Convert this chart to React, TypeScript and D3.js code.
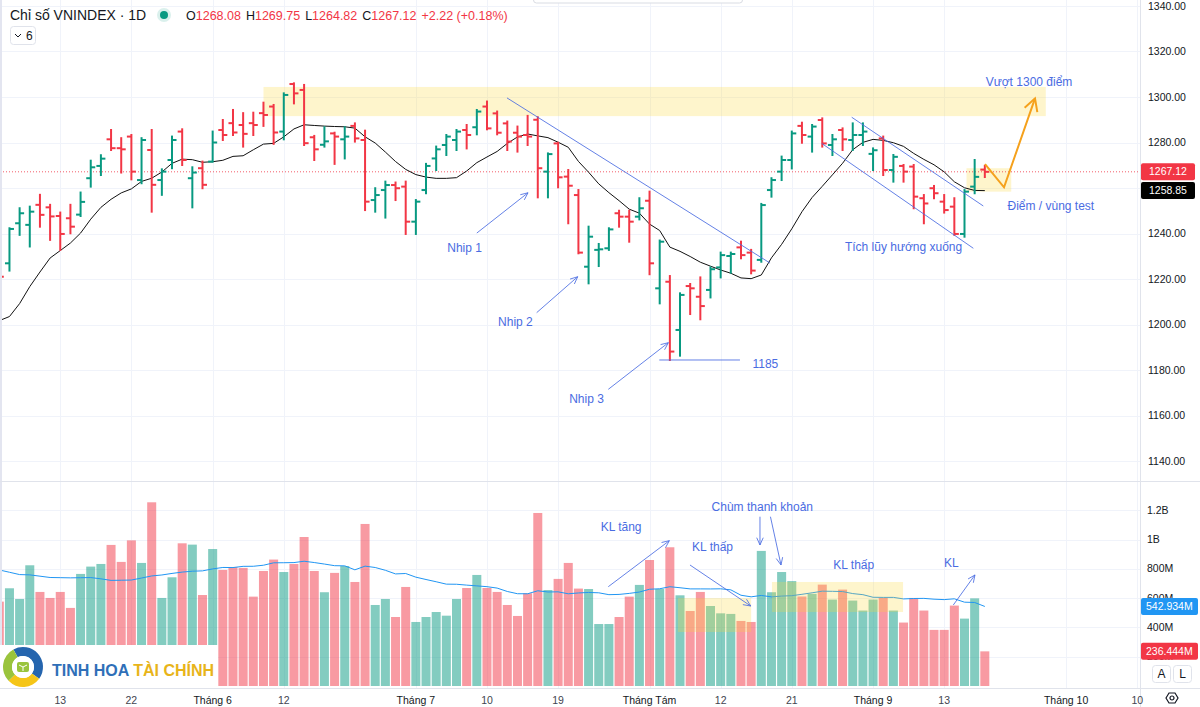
import React, { useEffect } from "react";
import * as d3 from "d3";

// ---------------- data (VNINDEX daily, 03 May -> 19 Sep 2024) ----------------
const opens = [1224, 1226.9, 1244.5, 1243.8, 1252.6, 1251.5, 1247.7, 1246.7, 1248.3, 1264.3,
  1269.7, 1281.4, 1277.5, 1282.6, 1263.5, 1276.7, 1263.5, 1272.3, 1284.8, 1264.3,
  1268.7, 1271.6, 1285.5, 1288.5, 1287.7, 1288.5, 1292.9, 1295.8, 1284.8, 1305.7,
  1303.1, 1282.3, 1279, 1284, 1281.4, 1287.3, 1281.1, 1254.7, 1259.1, 1261.3,
  1260.6, 1245.2, 1259.1, 1273, 1278.9, 1281.1, 1285.5, 1286.7, 1295.8, 1292.8,
  1288.4, 1284.3, 1283.3, 1290, 1267.2, 1279.6, 1265, 1256.9, 1225.4, 1232.8,
  1233.5, 1248.9, 1247.4, 1247.4, 1254.4, 1215.9, 1218.8, 1197.6, 1216.9, 1212.2,
  1215.2, 1225.1, 1230.1, 1233.9, 1231.6, 1228.4, 1259.1, 1267.2, 1272.3, 1287.3,
  1282.6, 1289.9, 1278.9, 1285.5, 1281.1, 1283.3, 1275, 1281.8, 1267.9, 1269.7,
  1269.4, 1255.5, 1259.9, 1254, 1251.8, 1239.8, 1260.6, 1268.08];
const highs = [1226, 1242.3, 1251.1, 1251.8, 1257, 1252.6, 1249.2, 1252.6, 1258, 1272,
  1274.4, 1285.5, 1281.9, 1283.3, 1281.9, 1285.5, 1268.2, 1282.6, 1285.8, 1269.1,
  1271.6, 1284.8, 1289.9, 1294.3, 1292.9, 1293.1, 1297.5, 1296.5, 1301.6, 1306,
  1305.3, 1282.9, 1286.7, 1284.3, 1286.7, 1288.4, 1285.2, 1259.9, 1262.8, 1262.4,
  1262.8, 1254.7, 1270.6, 1278.2, 1283.3, 1285.5, 1287.7, 1294.3, 1298, 1293.6,
  1289.2, 1287, 1291.7, 1291.1, 1275.2, 1279.9, 1267.9, 1259.1, 1243, 1235.4,
  1242.3, 1250, 1250, 1255.5, 1258.4, 1236.9, 1221.3, 1213.7, 1217.8, 1220.7,
  1225.1, 1231.6, 1231.6, 1236.4, 1232.8, 1253, 1264.3, 1273.8, 1284.8, 1288.7,
  1287.7, 1290.6, 1283.3, 1286.2, 1288.4, 1288.4, 1277.4, 1282.6, 1274.5, 1270.1,
  1270.1, 1256.9, 1260.9, 1256.9, 1255.5, 1259.1, 1272.3, 1269.75];
const lows = [1218, 1223.7, 1239.4, 1234.3, 1243, 1237.2, 1232.8, 1240.1, 1247.7, 1260.6,
  1265.7, 1276.7, 1266.8, 1263.8, 1262.1, 1249.6, 1257, 1268.7, 1270.1, 1251.5,
  1259.9, 1271.6, 1281.1, 1283.3, 1278.2, 1283.3, 1287.3, 1279.4, 1281.4, 1297.2,
  1278.9, 1272.3, 1278.2, 1270.6, 1273, 1280.4, 1250.3, 1249.6, 1247, 1254.7,
  1239.8, 1239.8, 1257.7, 1267.9, 1274.5, 1276.7, 1277.4, 1283.6, 1285.8, 1283.6,
  1276.7, 1276, 1278.9, 1255.9, 1255.9, 1260.3, 1244.5, 1231.3, 1218.1, 1225.7,
  1232.8, 1243, 1236.4, 1246.2, 1222.1, 1209.3, 1184.4, 1186.3, 1204.6, 1202.3,
  1211.9, 1220.7, 1222.8, 1229.1, 1222.5, 1227.6, 1256.2, 1263.5, 1268.6, 1279.9,
  1276, 1278.2, 1274.5, 1276.7, 1276.7, 1278.9, 1267.9, 1265.7, 1262.8, 1262.8,
  1251.1, 1244.5, 1255.5, 1249.2, 1239.4, 1238.6, 1257.7, 1264.82];
const closes = [1221, 1242, 1248.9, 1249.6, 1248.2, 1247.5, 1239.8, 1243, 1253.9, 1269.1,
  1272.9, 1277.5, 1277, 1267.2, 1281.1, 1261.4, 1267.2, 1281.1, 1272.3, 1266.8,
  1261.4, 1280, 1283.3, 1284.4, 1283.8, 1287.7, 1292.1, 1284.4, 1300.9, 1301.6,
  1279.7, 1277, 1280.5, 1282.6, 1282.6, 1281.8, 1254, 1256.9, 1261.3, 1259.9,
  1245.2, 1254, 1269.7, 1277, 1282.6, 1284.8, 1283.3, 1293.6, 1286.2, 1284.3,
  1280.4, 1282.6, 1282.6, 1268.7, 1274.9, 1264.7, 1261, 1231.6, 1238.6, 1233.05,
  1241.8, 1247.4, 1245.2, 1251.1, 1226.9, 1236.4, 1188.1, 1213, 1215.9, 1208.1,
  1224.3, 1230.5, 1231, 1230.5, 1223.7, 1252.5, 1263.5, 1272.3, 1284, 1283.3,
  1287, 1279.6, 1281.4, 1281.4, 1283.3, 1284.8, 1276.6, 1267.9, 1273.7, 1267.2,
  1256.2, 1253.2, 1257.7, 1250.3, 1239.8, 1258.4, 1264.9, 1267.12];
// volume, millions of shares
const volumes = [576, 667, 594, 824, 642, 601, 642, 533, 765, 815,
  833, 963, 847, 994, 840, 1254, 601, 742, 974, 965,
  621, 935, 792, 812, 806, 610, 785, 863, 778, 833,
  1017, 785, 640, 772, 819, 710, 1106, 553, 594, 471,
  676, 437, 471, 505, 480, 594, 669, 758, 669, 642,
  553, 478, 633, 1181, 655, 731, 840, 665, 662, 423,
  423, 471, 610, 690, 860, 662, 947, 619, 512, 642,
  546, 496, 492, 444, 437, 922, 640, 778, 716, 611,
  629, 692, 590, 658, 583, 515, 590, 601, 515, 433,
  601, 515, 383, 383, 549, 460, 598.24, 236.444];
// sessions before the first visible bar (feed the MA10 / volume MA20)
const warmupCloses = [1224, 1192, 1175, 1184, 1186, 1207, 1210, 1210, 1208];
const warmupVolumes = [982, 911, 862, 821, 781, 665, 559, 746, 795, 1007, 1173, 826, 969, 566, 969, 469, 528, 794, 843];

const timeTickIndex = [6, 13, 21, 28, 41, 48, 55, 64, 71, 78, 86, 93, 105, 112];
const timeTickLabels = ["13", "22", "Tháng 6", "12", "Tháng 7", "10", "19", "Tháng Tám", "12", "21", "Tháng 9", "13", "Tháng 10", "10"];
const timeTickIsMonth = [false, false, true, false, true, false, false, true, false, false, true, false, true, false];
const priceTicks = [1140, 1160, 1180, 1200, 1220, 1240, 1260, 1280, 1300, 1320, 1340];
const volTicks = [200, 400, 600, 800, 1000, 1200];
const volTickLabels = ["200M", "400M", "600M", "800M", "1B", "1.2B"];

// drawings (bar index, price)
const resistanceZone = { k0: 26, k1: 103, p0: 1291.6, p1: 1304.4 };
const testZone = { k0: 95.2, k1: 99.6, p0: 1258.4, p1: 1268.7 };
const priceLines: [number, number][][] = [
  [[49.97, 1299.6], [75.86, 1227.0]],
  [[64.96, 1184.4], [72.9, 1184.4]],
  [[83.9, 1291.1], [96.85, 1252.1]],
  [[80.95, 1279.6], [95.87, 1233.5]],
];
const priceArrows: [number, number][][] = [
  [[47.0, 1240.2], [52.04, 1257.9]],
  [[52.89, 1205.2], [56.93, 1221.0]],
  [[59.94, 1171.5], [65.85, 1192.0]],
];
const priceNotes: [string, number, number][] = [
  ["Nhip 1", 45.8, 1233.6],
  ["Nhip 2", 50.8, 1201.2],
  ["Nhip 3", 57.8, 1167.3],
  ["1185", 75.4, 1182.6],
  ["Tích lũy hướng xuống", 89.0, 1234.1],
  ["Điểm / vùng test", 103.5, 1252.1],
  ["Vượt 1300 điểm", 101.35, 1306.6],
];
const scenarioPath: [number, number][] = [[97.02, 1270.5], [98.89, 1260.3], [101.94, 1299.4]];
// drawings (bar index, volume M)
const volZones = [
  { k0: 66.8, k1: 74.0, v0: 368.6, v1: 600.7 },
  { k0: 76.05, k1: 88.95, v0: 505, v1: 710 },
];
const volArrows: [number, number][][] = [
  [[59.94, 677.8], [65.95, 991.8]],
  [[67.98, 826], [73.96, 546]],
  [[74.87, 1155.6], [74.87, 962.5]],
  [[75.9, 1155.6], [76.94, 826]],
  [[93.9, 553], [96.03, 758]],
];
const volNotes: [string, number, number][] = [
  ["KL tăng", 61.2, 1087],
  ["KL thấp", 70.2, 946.8],
  ["Chùm thanh khoản", 75.1, 1224],
  ["KL thấp", 84.1, 826],
  ["KL", 93.7, 840],
];

const UP = "#089981";
const DOWN = "#F23645";
const ANNO = "#4A6CE2";
const FONT = "'Liberation Sans', Arial, sans-serif";

function arrowPath(x1: number, y1: number, x2: number, y2: number, len = 8, ang = 0.42) {
  const a = Math.atan2(y2 - y1, x2 - x1);
  const ax = x2 - len * Math.cos(a - ang), ay = y2 - len * Math.sin(a - ang);
  const bx = x2 - len * Math.cos(a + ang), by = y2 - len * Math.sin(a + ang);
  return `M${x1},${y1}L${x2},${y2}M${ax},${ay}L${x2},${y2}L${bx},${by}`;
}
function headPath(x1: number, y1: number, x2: number, y2: number, len = 8, ang = 0.42) {
  const a = Math.atan2(y2 - y1, x2 - x1);
  const ax = x2 - len * Math.cos(a - ang), ay = y2 - len * Math.sin(a - ang);
  const bx = x2 - len * Math.cos(a + ang), by = y2 - len * Math.sin(a + ang);
  return `M${ax},${ay}L${x2},${y2}L${bx},${by}`;
}

export default function App() {
  useEffect(() => {
    document.body.style.margin = "0";
  }, []);

  const plotR = 1140;
  const priceBottom = 481;
  const volTop = 482;
  const volBottom = 688;

  const x = d3.scaleLinear().domain([0, 112]).range([-0.7, -0.7 + 112 * 10.16]);
  const yP = d3.scaleLinear().domain([1140, 1340]).range([461, 6]);
  const yV = d3.scaleLinear().domain([0, 1200]).range([686, 510.2]);

  const allC = warmupCloses.concat(closes);
  const ma = closes.map((_, i) => d3.mean(allC.slice(i, i + 10)) as number);
  const allV = warmupVolumes.concat(volumes);
  const vma = volumes.map((_, i) => d3.mean(allV.slice(i, i + 20)) as number);

  const maLine = d3.line<number>().x((_, i) => x(i)).y((d) => yP(d));
  const vmaLine = d3.line<number>().x((_, i) => x(i)).y((d) => yV(d));
  const scen = d3.line<[number, number]>().x((d) => x(d[0])).y((d) => yP(d[1]));

  const last = closes.length - 1;
  const lastClose = closes[last];
  const lastMa = ma[last];
  const lastVma = vma[last];
  const lastVol = volumes[last];
  const lastUp = closes[last] >= opens[last];

  // axis labels hidden behind the last-value badges (as on the reference)
  const shownPriceTicks = priceTicks.filter(
    (p) => Math.abs(yP(p) - yP(lastClose)) > 12 && Math.abs(yP(p) - yP(lastMa)) > 12
  );

  const logoArc = d3.arc<any>().innerRadius(11).outerRadius(20);
  const logoSegs = [
    { s: -0.5, e: 2.2, c: "#2565AE" },
    { s: 2.2, e: 3.95, c: "#F5C518" },
    { s: 3.95, e: 5.78, c: "#9AC43C" },
  ];

  const sp = scenarioPath;
  const sA = sp[sp.length - 2], sB = sp[sp.length - 1];

  return (
    <svg width={1200} height={707} style={{ position: "absolute", left: 0, top: 0 }} fontFamily={FONT}>
      <defs>
        <clipPath id="cp"><rect x={0} y={0} width={plotR} height={priceBottom} /></clipPath>
        <clipPath id="cv"><rect x={0} y={volTop} width={plotR} height={volBottom - volTop} /></clipPath>
      </defs>
      <rect width={1200} height={707} fill="#fff" />

      {/* grid */}
      <g stroke="#F0F3FA" strokeWidth={1}>
        {priceTicks.map((p) => (
          <line key={"gp" + p} x1={0} x2={plotR} y1={Math.round(yP(p)) + 0.5} y2={Math.round(yP(p)) + 0.5} />
        ))}
        {volTicks.map((v) => (
          <line key={"gv" + v} x1={0} x2={plotR} y1={Math.round(yV(v)) + 0.5} y2={Math.round(yV(v)) + 0.5} />
        ))}
        {timeTickIndex.map((k, i) => (
          <line key={"gt" + i} x1={Math.round(x(k)) + 0.5} x2={Math.round(x(k)) + 0.5} y1={0} y2={volBottom} />
        ))}
      </g>

      {/* price pane */}
      <g clipPath="url(#cp)">
        <rect x={x(resistanceZone.k0)} width={x(resistanceZone.k1) - x(resistanceZone.k0)}
          y={yP(resistanceZone.p1)} height={yP(resistanceZone.p0) - yP(resistanceZone.p1)}
          fill="#FDD835" fillOpacity={0.25} />
        <rect x={x(testZone.k0)} width={x(testZone.k1) - x(testZone.k0)}
          y={yP(testZone.p1)} height={yP(testZone.p0) - yP(testZone.p1)}
          fill="#FDD835" fillOpacity={0.25} />
        <line x1={0} x2={plotR} y1={yP(lastClose)} y2={yP(lastClose)} stroke={DOWN} strokeWidth={1} strokeDasharray="1,2" opacity={0.8} />
        <path d={maLine(ma) || ""} fill="none" stroke="#111" strokeWidth={1} />
        {closes.map((c, i) => {
          const col = c >= opens[i] ? UP : DOWN;
          const cx = x(i);
          return (
            <g key={"b" + i} stroke={col} strokeWidth={2}>
              <line x1={cx} x2={cx} y1={yP(highs[i]) - 1} y2={yP(lows[i]) + 1} />
              <line x1={cx - 4.5} x2={cx} y1={yP(opens[i])} y2={yP(opens[i])} />
              <line x1={cx} x2={cx + 4.5} y1={yP(c)} y2={yP(c)} />
            </g>
          );
        })}
        {priceLines.map((l, i) => (
          <line key={"pl" + i} x1={x(l[0][0])} y1={yP(l[0][1])} x2={x(l[1][0])} y2={yP(l[1][1])} stroke={ANNO} strokeWidth={1} opacity={0.85} />
        ))}
        {priceArrows.map((a, i) => (
          <path key={"pa" + i} d={arrowPath(x(a[0][0]), yP(a[0][1]), x(a[1][0]), yP(a[1][1]))} fill="none" stroke={ANNO} strokeWidth={1} opacity={0.85} />
        ))}
        <path d={scen(sp) || ""} fill="none" stroke="#F5A11C" strokeWidth={2} strokeLinejoin="miter" />
        <path d={headPath(x(sA[0]), yP(sA[1]), x(sB[0]), yP(sB[1]), 14, 0.5)}
          fill="none" stroke="#F5A11C" strokeWidth={2} />
        {priceNotes.map((t, i) => (
          <text key={"pn" + i} x={x(t[1])} y={yP(t[2])} dy="0.35em" textAnchor="middle" fontSize={12} fill={ANNO}>{t[0]}</text>
        ))}
      </g>

      {/* volume pane */}
      <g clipPath="url(#cv)">
        {volumes.map((v, i) => (
          <rect key={"v" + i} x={x(i) - 4.5} width={9} y={yV(v)} height={yV(0) - yV(v)}
            fill={closes[i] >= opens[i] ? UP : DOWN} fillOpacity={0.5} />
        ))}
        <path d={vmaLine(vma) || ""} fill="none" stroke="#2196F3" strokeWidth={1} />
        {volZones.map((z, i) => (
          <rect key={"vz" + i} x={x(z.k0)} width={x(z.k1) - x(z.k0)} y={yV(z.v1)} height={yV(z.v0) - yV(z.v1)}
            fill="#FDD835" fillOpacity={0.25} />
        ))}
        {volArrows.map((a, i) => (
          <path key={"va" + i} d={arrowPath(x(a[0][0]), yV(a[0][1]), x(a[1][0]), yV(a[1][1]))} fill="none" stroke={ANNO} strokeWidth={1} opacity={0.85} />
        ))}
        {volNotes.map((t, i) => (
          <text key={"vn" + i} x={x(t[1])} y={yV(t[2])} dy="0.35em" textAnchor="middle" fontSize={12} fill={ANNO}>{t[0]}</text>
        ))}
      </g>

      {/* frame lines */}
      <rect x={0} y={0} width={2} height={volBottom} fill="#E3E5F0" />
      <line x1={0} x2={1200} y1={priceBottom + 0.5} y2={priceBottom + 0.5} stroke="#E0E3EB" />
      <line x1={0} x2={1200} y1={volBottom + 0.5} y2={volBottom + 0.5} stroke="#E0E3EB" />
      <line x1={plotR + 0.5} x2={plotR + 0.5} y1={0} y2={707} stroke="#E0E3EB" />
      <rect x={533.5} y={-6} width={209} height={9} rx={3} fill="#fff" stroke="#D9DCE3" />

      {/* right price axis */}
      <g fontSize={10.5} fill="#131722">
        {shownPriceTicks.map((p) => (
          <text key={"pt" + p} x={1148} y={yP(p)} dy="0.35em">{p.toFixed(2)}</text>
        ))}
        {volTicks.map((v, i) => (
          <text key={"vt" + v} x={1147} y={yV(v)} dy="0.35em">{volTickLabels[i]}</text>
        ))}
      </g>
      <g fontSize={10.5} fill="#fff">
        <rect x={1141} y={yP(lastClose) - 8.5} width={54} height={17} rx={2} fill={DOWN} />
        <text x={1149} y={yP(lastClose)} dy="0.35em">{lastClose.toFixed(2)}</text>
        <rect x={1141} y={yP(lastMa) - 8.5} width={54} height={17} rx={2} fill="#000" />
        <text x={1149} y={yP(lastMa)} dy="0.35em">{lastMa.toFixed(2)}</text>
        <rect x={1141} y={yV(lastVma) - 8.5} width={57} height={17} rx={2} fill="#2196F3" />
        <text x={1146} y={yV(lastVma)} dy="0.35em">{lastVma.toFixed(3) + "M"}</text>
        <rect x={1141} y={yV(lastVol) - 8.5} width={57} height={17} rx={2} fill={lastUp ? UP : DOWN} />
        <text x={1146} y={yV(lastVol)} dy="0.35em">{lastVol.toFixed(3) + "M"}</text>
      </g>
      <g fontSize={12} fill="#131722">
        <rect x={1152.5} y={665.5} width={18} height={17} rx={3} fill="#fff" stroke="#E0E3EB" />
        <text x={1161.5} y={674} dy="0.35em" textAnchor="middle">A</text>
        <rect x={1173.5} y={665.5} width={18} height={17} rx={3} fill="#fff" stroke="#E0E3EB" />
        <text x={1182.5} y={674} dy="0.35em" textAnchor="middle">L</text>
      </g>
      <g transform="translate(1172,698)" fill="none" stroke="#131722" strokeWidth={1.2}>
        <path d="M-6,0 L-3,-5 L3,-5 L6,0 L3,5 L-3,5 Z" />
        <circle r={2} />
      </g>

      {/* time axis */}
      <g fontSize={10.5}>
        {timeTickIndex.map((k, i) => (
          <text key={"tt" + i} x={x(k)} y={700} dy="0.35em" textAnchor="middle"
            fill={timeTickIsMonth[i] ? "#131722" : "#42454f"} fontWeight={timeTickIsMonth[i] ? 500 : 400}>
            {timeTickLabels[i]}
          </text>
        ))}
      </g>

      {/* logo */}
      <rect x={0} y={645} width={218} height={43} fill="#fff" />
      <g transform="translate(23,667)">
        {logoSegs.map((s, i) => (
          <path key={"lg" + i} d={logoArc({ startAngle: s.s, endAngle: s.e }) || ""} fill={s.c} />
        ))}
        <circle r={11} fill="#fff" />
        <rect x={-6} y={-5} width={12} height={10} rx={2} fill="#9AC43C" />
        <path d="M-4,-2 L0,0 L4,-2 M0,0 L0,4" stroke="#fff" strokeWidth={1} fill="none" />
      </g>
      <text x={52} y={676} fontSize={16} fontWeight={700}>
        <tspan fill="#2F6FB8">TINH HOA </tspan>
        <tspan fill="#E8B41A">TÀI CHÍNH</tspan>
      </text>

      {/* header */}
      <text x={10} y={20} fontSize={14} fill="#131722">Chỉ số VNINDEX · 1D</text>
      <circle cx={164} cy={15} r={7} fill={UP} fillOpacity={0.15} />
      <circle cx={164} cy={15} r={4} fill={UP} />
      <text x={186} y={20} fontSize={12.5} fill={DOWN}>
        <tspan fill="#131722">O</tspan>{opens[last].toFixed(2)}
        <tspan fill="#131722" dx={5}>H</tspan>{highs[last].toFixed(2)}
        <tspan fill="#131722" dx={5}>L</tspan>{lows[last].toFixed(2)}
        <tspan fill="#131722" dx={5}>C</tspan>{closes[last].toFixed(2)}
        <tspan dx={5}>{"+" + (closes[last] - closes[last - 1]).toFixed(2) + " (+" + ((closes[last] / closes[last - 1] - 1) * 100).toFixed(2) + "%)"}</tspan>
      </text>
      <rect x={10.5} y={26.5} width={25} height={18} rx={3} fill="#fff" stroke="#E0E3EB" />
      <path d="M15,34 L18,37 L21,34" fill="none" stroke="#131722" strokeWidth={1} />
      <text x={26} y={40} fontSize={12} fill="#131722">6</text>
    </svg>
  );
}
